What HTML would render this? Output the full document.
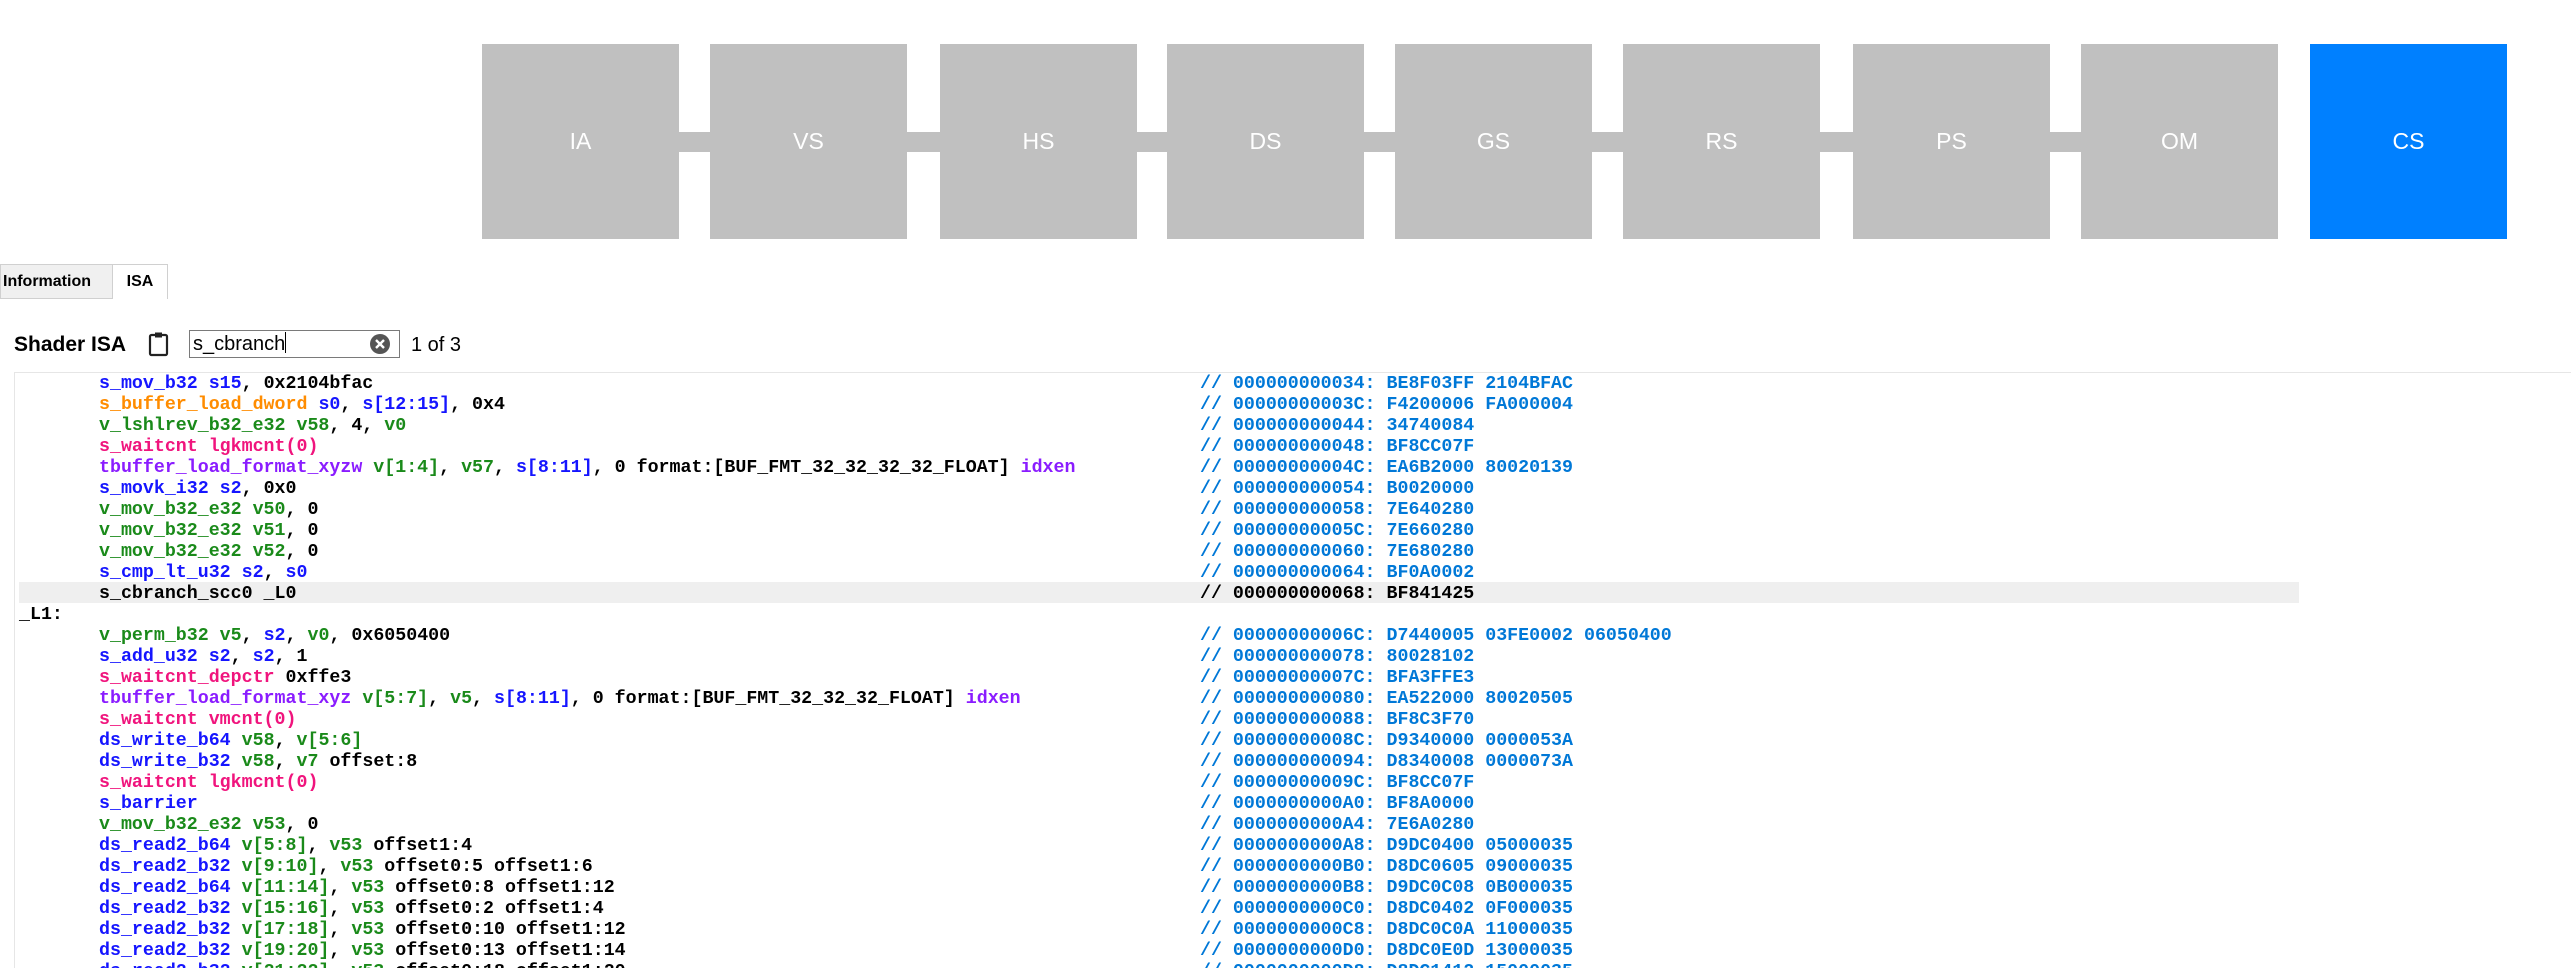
<!DOCTYPE html>
<html><head><meta charset="utf-8"><style>
html,body{margin:0;padding:0;width:2571px;height:968px;overflow:hidden;background:#fff;position:relative;font-family:"Liberation Sans",sans-serif}
.box{position:absolute;top:44px;width:197px;height:195px;background:#c0c0c0;color:#fff;font-size:23px;display:flex;align-items:center;justify-content:center}
.bar{position:absolute;top:132px;height:20px;background:#c0c0c0}
.tab{position:absolute;top:264px;height:35px;box-sizing:border-box;font-weight:bold;font-size:16px;line-height:33px;border:1px solid #d0d0d0}
.code{position:absolute;left:14px;top:372px;right:0;bottom:0;border-left:1px solid #e6e6e6;border-top:1px solid #e6e6e6}
.ln{position:absolute;left:0;width:2571px;height:21px;line-height:21px;padding-top:2px;font-family:"Liberation Mono",monospace;font-weight:bold;font-size:18.3px;white-space:pre;color:#000}
.ln .i{position:absolute;left:99px}
.ln .c{position:absolute;left:1200px;color:#0078d7}
.b{color:#1515ff}.g{color:#1a8a1a}.o{color:#ff8c00}.p{color:#f0147d}.u{color:#8a1cff}
.hl{position:absolute;left:19px;width:2280px;height:21px;background:#efefef}
</style></head><body>
<div class="box" style="left:482px">IA</div>
<div class="box" style="left:710px">VS</div>
<div class="box" style="left:940px">HS</div>
<div class="box" style="left:1167px">DS</div>
<div class="box" style="left:1395px">GS</div>
<div class="box" style="left:1623px">RS</div>
<div class="box" style="left:1853px">PS</div>
<div class="box" style="left:2081px">OM</div>
<div class="box" style="left:2310px;background:#0080ff">CS</div>
<div class="bar" style="left:679px;width:31px"></div>
<div class="bar" style="left:907px;width:33px"></div>
<div class="bar" style="left:1137px;width:30px"></div>
<div class="bar" style="left:1364px;width:31px"></div>
<div class="bar" style="left:1592px;width:31px"></div>
<div class="bar" style="left:1820px;width:33px"></div>
<div class="bar" style="left:2050px;width:31px"></div>

<div class="tab" style="left:0;width:113px;background:#f0f0f0;padding-left:2px">Information</div>
<div class="tab" style="left:112px;width:56px;background:#fff;border-bottom:none;text-align:center">ISA</div>

<div style="position:absolute;left:14px;top:331px;font-weight:bold;font-size:21px;line-height:28px">Shader ISA</div>
<svg style="position:absolute;left:147px;top:331px" width="24" height="26" viewBox="0 0 24 26"><rect x="3" y="4" width="17" height="20" rx="1.5" fill="none" stroke="#222" stroke-width="2.2"/><rect x="8" y="1.5" width="7" height="5" fill="#222"/></svg>
<div style="position:absolute;left:189px;top:330px;width:211px;height:28px;box-sizing:border-box;border:1px solid #7a7a7a;font-size:20px;line-height:26px;padding-left:3px">s_cbranch<span style="display:inline-block;width:1px;height:21px;background:#000;vertical-align:-3px"></span></div>
<svg style="position:absolute;left:369px;top:333px" width="22" height="22" viewBox="0 0 22 22"><circle cx="11" cy="11" r="10" fill="#555"/><path d="M7 7L15 15M15 7L7 15" stroke="#fff" stroke-width="2.4"/></svg>
<div style="position:absolute;left:411px;top:331px;font-size:20px;line-height:28px">1 of 3</div>

<div class="code"></div>
<div class="hl" style="top:582px"></div>

<div class="ln" style="top:372px"><span class="i"><span class="b">s_mov_b32 s15</span>, 0x2104bfac</span><span class="c">// 000000000034: BE8F03FF 2104BFAC</span></div>
<div class="ln" style="top:393px"><span class="i"><span class="o">s_buffer_load_dword</span> <span class="b">s0</span>, <span class="b">s[12:15]</span>, 0x4</span><span class="c">// 00000000003C: F4200006 FA000004</span></div>
<div class="ln" style="top:414px"><span class="i"><span class="g">v_lshlrev_b32_e32 v58</span>, 4, <span class="g">v0</span></span><span class="c">// 000000000044: 34740084</span></div>
<div class="ln" style="top:435px"><span class="i"><span class="p">s_waitcnt lgkmcnt(0)</span></span><span class="c">// 000000000048: BF8CC07F</span></div>
<div class="ln" style="top:456px"><span class="i"><span class="u">tbuffer_load_format_xyzw</span> <span class="g">v[1:4]</span>, <span class="g">v57</span>, <span class="b">s[8:11]</span>, 0 format:[BUF_FMT_32_32_32_32_FLOAT] <span class="u">idxen</span></span><span class="c">// 00000000004C: EA6B2000 80020139</span></div>
<div class="ln" style="top:477px"><span class="i"><span class="b">s_movk_i32 s2</span>, 0x0</span><span class="c">// 000000000054: B0020000</span></div>
<div class="ln" style="top:498px"><span class="i"><span class="g">v_mov_b32_e32 v50</span>, 0</span><span class="c">// 000000000058: 7E640280</span></div>
<div class="ln" style="top:519px"><span class="i"><span class="g">v_mov_b32_e32 v51</span>, 0</span><span class="c">// 00000000005C: 7E660280</span></div>
<div class="ln" style="top:540px"><span class="i"><span class="g">v_mov_b32_e32 v52</span>, 0</span><span class="c">// 000000000060: 7E680280</span></div>
<div class="ln" style="top:561px"><span class="i"><span class="b">s_cmp_lt_u32 s2</span>, <span class="b">s0</span></span><span class="c">// 000000000064: BF0A0002</span></div>
<div class="ln" style="top:582px"><span class="i">s_cbranch_scc0 _L0</span><span class="c" style="color:#000">// 000000000068: BF841425</span></div>
<div class="ln" style="top:603px"><span style="position:absolute;left:19px">_L1:</span></div>
<div class="ln" style="top:624px"><span class="i"><span class="g">v_perm_b32 v5</span>, <span class="b">s2</span>, <span class="g">v0</span>, 0x6050400</span><span class="c">// 00000000006C: D7440005 03FE0002 06050400</span></div>
<div class="ln" style="top:645px"><span class="i"><span class="b">s_add_u32 s2</span>, <span class="b">s2</span>, 1</span><span class="c">// 000000000078: 80028102</span></div>
<div class="ln" style="top:666px"><span class="i"><span class="p">s_waitcnt_depctr</span> 0xffe3</span><span class="c">// 00000000007C: BFA3FFE3</span></div>
<div class="ln" style="top:687px"><span class="i"><span class="u">tbuffer_load_format_xyz</span> <span class="g">v[5:7]</span>, <span class="g">v5</span>, <span class="b">s[8:11]</span>, 0 format:[BUF_FMT_32_32_32_FLOAT] <span class="u">idxen</span></span><span class="c">// 000000000080: EA522000 80020505</span></div>
<div class="ln" style="top:708px"><span class="i"><span class="p">s_waitcnt vmcnt(0)</span></span><span class="c">// 000000000088: BF8C3F70</span></div>
<div class="ln" style="top:729px"><span class="i"><span class="b">ds_write_b64</span> <span class="g">v58</span>, <span class="g">v[5:6]</span></span><span class="c">// 00000000008C: D9340000 0000053A</span></div>
<div class="ln" style="top:750px"><span class="i"><span class="b">ds_write_b32</span> <span class="g">v58</span>, <span class="g">v7</span> offset:8</span><span class="c">// 000000000094: D8340008 0000073A</span></div>
<div class="ln" style="top:771px"><span class="i"><span class="p">s_waitcnt lgkmcnt(0)</span></span><span class="c">// 00000000009C: BF8CC07F</span></div>
<div class="ln" style="top:792px"><span class="i"><span class="b">s_barrier</span></span><span class="c">// 0000000000A0: BF8A0000</span></div>
<div class="ln" style="top:813px"><span class="i"><span class="g">v_mov_b32_e32 v53</span>, 0</span><span class="c">// 0000000000A4: 7E6A0280</span></div>
<div class="ln" style="top:834px"><span class="i"><span class="b">ds_read2_b64</span> <span class="g">v[5:8]</span>, <span class="g">v53</span> offset1:4</span><span class="c">// 0000000000A8: D9DC0400 05000035</span></div>
<div class="ln" style="top:855px"><span class="i"><span class="b">ds_read2_b32</span> <span class="g">v[9:10]</span>, <span class="g">v53</span> offset0:5 offset1:6</span><span class="c">// 0000000000B0: D8DC0605 09000035</span></div>
<div class="ln" style="top:876px"><span class="i"><span class="b">ds_read2_b64</span> <span class="g">v[11:14]</span>, <span class="g">v53</span> offset0:8 offset1:12</span><span class="c">// 0000000000B8: D9DC0C08 0B000035</span></div>
<div class="ln" style="top:897px"><span class="i"><span class="b">ds_read2_b32</span> <span class="g">v[15:16]</span>, <span class="g">v53</span> offset0:2 offset1:4</span><span class="c">// 0000000000C0: D8DC0402 0F000035</span></div>
<div class="ln" style="top:918px"><span class="i"><span class="b">ds_read2_b32</span> <span class="g">v[17:18]</span>, <span class="g">v53</span> offset0:10 offset1:12</span><span class="c">// 0000000000C8: D8DC0C0A 11000035</span></div>
<div class="ln" style="top:939px"><span class="i"><span class="b">ds_read2_b32</span> <span class="g">v[19:20]</span>, <span class="g">v53</span> offset0:13 offset1:14</span><span class="c">// 0000000000D0: D8DC0E0D 13000035</span></div>
<div class="ln" style="top:960px"><span class="i"><span class="b">ds_read2_b32</span> <span class="g">v[21:22]</span>, <span class="g">v53</span> offset0:18 offset1:20</span><span class="c">// 0000000000D8: D8DC1412 15000035</span></div>
</body></html>
